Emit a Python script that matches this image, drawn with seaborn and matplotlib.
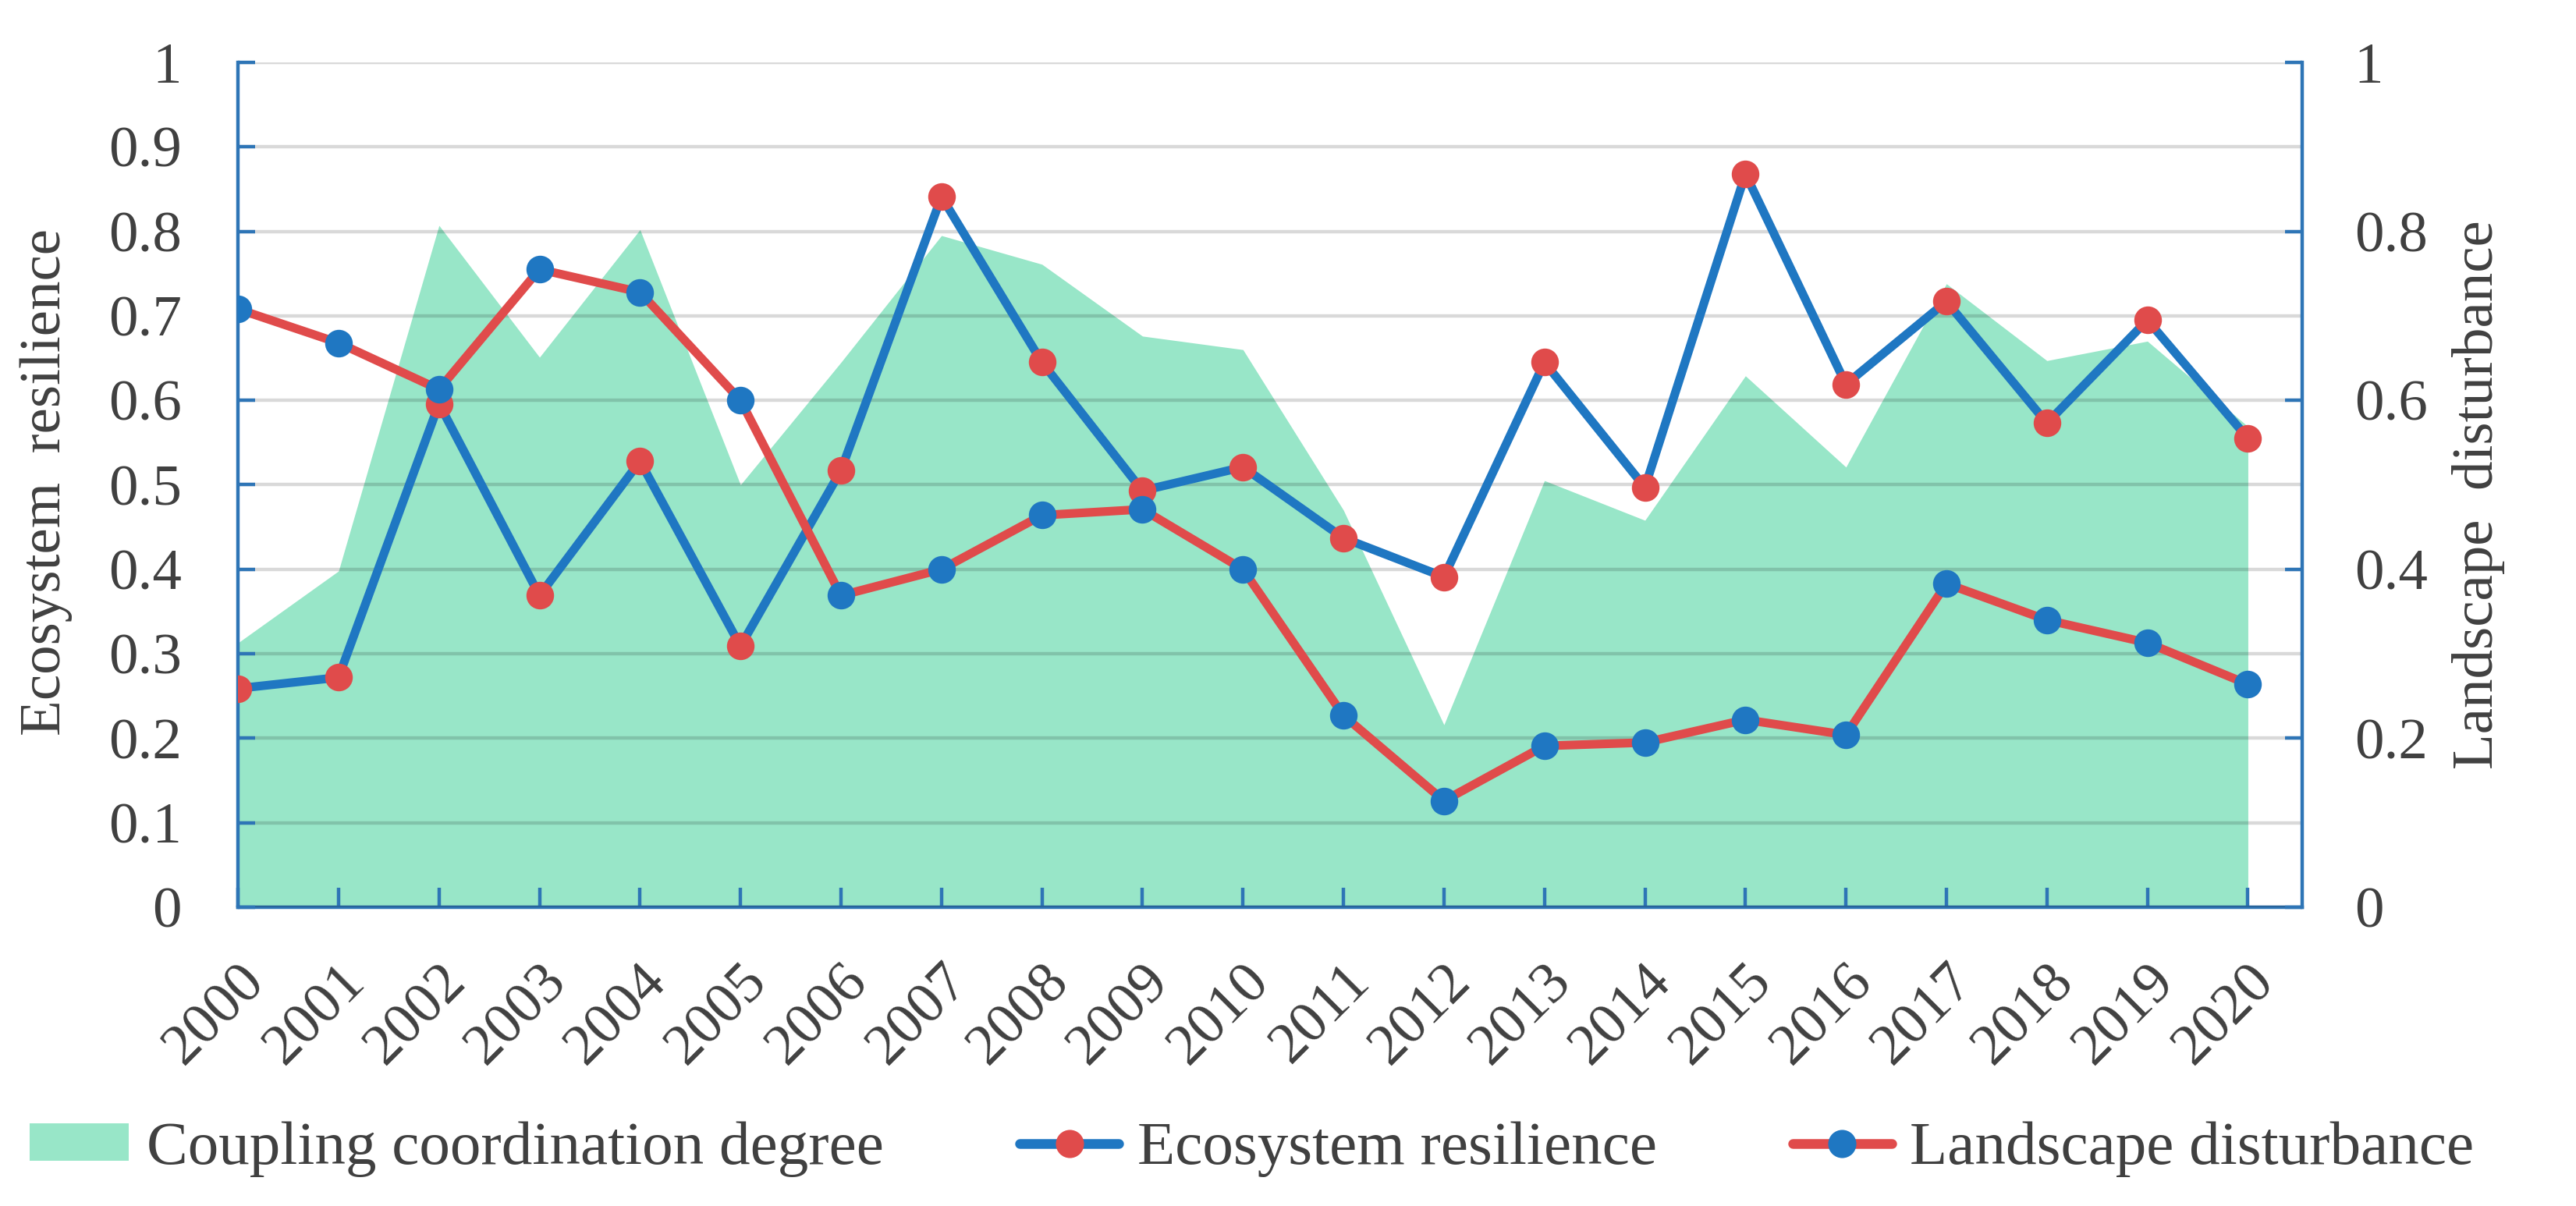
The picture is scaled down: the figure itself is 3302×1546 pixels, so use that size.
import numpy as np
import pandas as pd
import matplotlib
matplotlib.use("Agg")
import matplotlib.pyplot as plt
import seaborn as sns
from matplotlib.lines import Line2D
from matplotlib.patches import Patch

# ---- data ----
years = [str(y) for y in range(2000, 2021)]
coupling = [0.313, 0.398, 0.807, 0.651, 0.802, 0.500, 0.645, 0.795, 0.761, 0.676, 0.660,
            0.470, 0.216, 0.505, 0.458, 0.629, 0.521, 0.738, 0.647, 0.670, 0.569]
resilience = [0.259, 0.272, 0.596, 0.369, 0.528, 0.309, 0.517, 0.841, 0.645, 0.493, 0.521,
              0.437, 0.391, 0.645, 0.497, 0.868, 0.619, 0.717, 0.573, 0.695, 0.555]
disturbance = [0.708, 0.668, 0.613, 0.755, 0.728, 0.600, 0.369, 0.400, 0.464, 0.471, 0.400,
               0.227, 0.126, 0.191, 0.195, 0.222, 0.204, 0.383, 0.340, 0.313, 0.264]
left_ticks = [0, 0.1, 0.2, 0.3, 0.4, 0.5, 0.6, 0.7, 0.8, 0.9, 1.0]
left_labels = ["0", "0.1", "0.2", "0.3", "0.4", "0.5", "0.6", "0.7", "0.8", "0.9", "1"]
right_ticks = [0, 0.2, 0.4, 0.6, 0.8, 1.0]
right_labels = ["0", "0.2", "0.4", "0.6", "0.8", "1"]
series_names = ["Coupling coordination degree", "Ecosystem resilience", "Landscape disturbance"]
ylabel_left = "Ecosystem  resilience"
ylabel_right = "Landscape  disturbance"

df = pd.DataFrame({"idx": np.arange(len(years)), "year": years, "ccd": coupling,
                   "er": resilience, "ld": disturbance})

# ---- style ----
sns.set_theme(style="white")
plt.rcParams["font.family"] = ["Liberation Serif", "DejaVu Serif"]
BLUE = "#1F77C2"
RED = "#E04B4B"
MINT = "#98E6C8"
SPINE = "#2E75B6"
TXT = "#404040"
FS = 27

fig = plt.figure(figsize=(16.51, 7.73), dpi=200)
ax = fig.add_axes([0.0924, 0.2477, 0.8013, 0.7006])
ax2 = ax.twinx()

ax.fill_between(df["idx"], 0, df["ccd"], color=MINT, lw=0, zorder=1)
sns.lineplot(data=df, x="idx", y="er", ax=ax, color=BLUE, lw=4.0, marker="o",
             markersize=12, markerfacecolor=RED, markeredgecolor=RED, zorder=3)
sns.lineplot(data=df, x="idx", y="ld", ax=ax2, color=RED, lw=4.0, marker="o",
             markersize=12, markerfacecolor=BLUE, markeredgecolor=BLUE, zorder=3)

for a in (ax, ax2):
    a.set_xlim(0, 20.54)
    a.set_ylim(0, 1)
    a.set_xlabel("")
    a.set_ylabel("")
    for s in a.spines.values():
        s.set_color(SPINE)
        s.set_linewidth(1.6)
    a.spines["top"].set_visible(False)

ax.spines["right"].set_visible(False)
ax2.spines["left"].set_visible(False)
ax2.spines["bottom"].set_visible(False)
ax2.patch.set_visible(False)

ax.yaxis.grid(True, color="black", alpha=0.15, lw=1.6)
ax.xaxis.grid(False)
ax.set_axisbelow(False)

ax.set_yticks(left_ticks)
ax.set_yticklabels(left_labels)
ax.set_xticks(df["idx"])
ax.set_xticklabels(years, rotation=45, ha="right", rotation_mode="anchor")
ax.tick_params(axis="y", direction="in", length=8, width=1.6, color=SPINE,
               labelsize=FS, labelcolor=TXT, pad=26, left=True)
ax.tick_params(axis="x", direction="in", length=9, width=1.6, color=SPINE,
               labelsize=FS, labelcolor=TXT, pad=22, bottom=True)
ax2.set_yticks(right_ticks)
ax2.set_yticklabels(right_labels)
ax2.tick_params(axis="y", direction="in", length=8, width=1.6, color=SPINE,
                labelsize=FS, labelcolor=TXT, pad=24, right=True)

fig.text(0.018, 0.60, ylabel_left, rotation=90, ha="center", va="center",
         fontsize=FS, color=TXT)
fig.text(0.962, 0.59, ylabel_right, rotation=90, ha="center", va="center",
         fontsize=FS, color=TXT)

handles = [
    Patch(facecolor=MINT, edgecolor="none"),
    Line2D([], [], color=BLUE, lw=4.5, marker="o", ms=12, mfc=RED, mec=RED),
    Line2D([], [], color=RED, lw=4.5, marker="o", ms=12, mfc=BLUE, mec=BLUE),
]
leg = fig.legend(handles, series_names, loc="center left", bbox_to_anchor=(0.0115, 0.047),
                 ncol=3, frameon=False, fontsize=28.5, handlelength=1.6, handleheight=0.55,
                 columnspacing=2.2, handletextpad=0.3, labelcolor=TXT,
                 borderpad=0, borderaxespad=0)

fig.savefig("out.png", dpi=200)
